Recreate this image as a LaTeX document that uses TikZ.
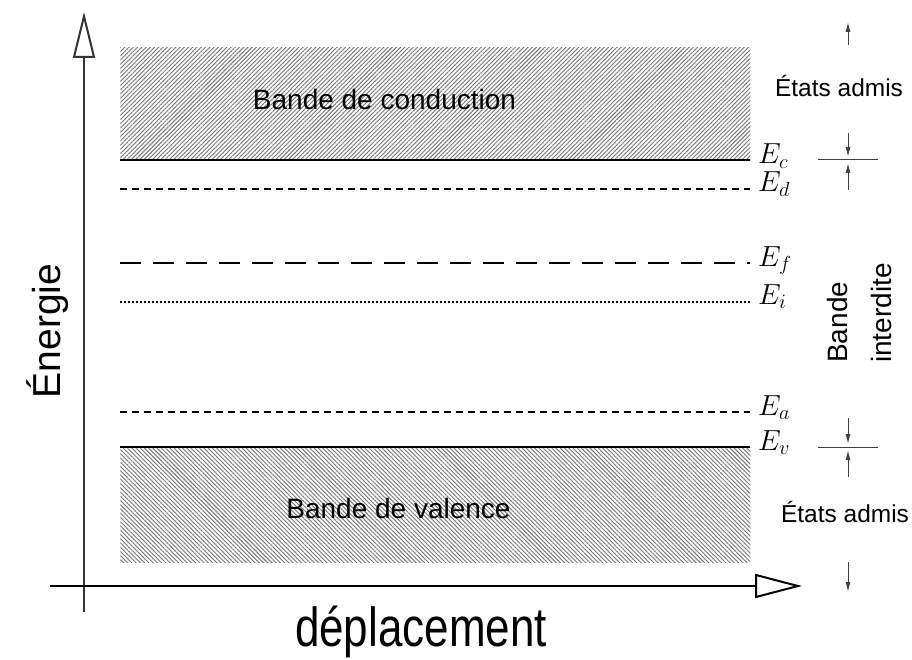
\RequirePackage{fix-cm}
\documentclass[tikz,border=0pt]{standalone}
\usepackage[no-math]{fontspec}
\setmainfont{Liberation Sans}
\usetikzlibrary{arrows.meta,patterns.meta}
\begin{document}
\begin{tikzpicture}[x=1pt,y=-1pt,
  band/.style={pattern={Lines[angle=#1,distance=3pt,line width=0.9pt]},pattern color=black!55,draw=none,inner sep=0pt,anchor=north west,minimum width=630pt},
  bandtxt/.style={anchor=base,inner sep=0pt,font=\fontsize{28}{30}\selectfont},
  solidlvl/.style={line width=2.6pt},
  dashlvl/.style={line width=1.3pt,dash pattern=on 7pt off 5pt},
  longdash/.style={line width=1.3pt,dash pattern=on 21pt off 12pt},
  dotlvl/.style={line width=1.1pt,dash pattern=on 1.5pt off 2.5pt},
  lbl/.style={anchor=base west,inner sep=0pt,font=\fontsize{29}{30}\selectfont},
  axis/.style={line width=2pt},
  tickline/.style={line width=1pt,black!75},
  tipline/.style={-{Latex[length=10pt,width=5pt]},line width=1pt,black!75},
  side/.style={anchor=base,inner sep=0pt,font=\fontsize{24.5}{26}\selectfont}]
\useasboundingbox (0,0) rectangle (912,660);
% bands
\node (cb) [band=45, minimum height=113pt] at (120,47) {};
\node (vb) [band=-45, minimum height=115pt] at (120,447) {};
\node (cbt) [bandtxt] at (384.5,110) {Bande de conduction};
\node (vbt) [bandtxt] at (398.5,518) {Bande de valence};
% levels
\coordinate (ecL) at (120,160); \coordinate (ecR) at (750,160);
\coordinate (edL) at (120,189); \coordinate (edR) at (750,189);
\coordinate (efL) at (120,263); \coordinate (efR) at (750,263);
\coordinate (eiL) at (120,302); \coordinate (eiR) at (750,302);
\coordinate (eaL) at (120,412); \coordinate (eaR) at (750,412);
\coordinate (evL) at (120,447); \coordinate (evR) at (750,447);
\draw[solidlvl] (ecL) -- (ecR);
\draw[dashlvl] (edL) -- (edR);
\draw[longdash] (efL) -- (efR);
\draw[dotlvl] (eiL) -- (eiR);
\draw[dashlvl] (eaL) -- (eaR);
\draw[solidlvl] (evL) -- (evR);
\node (lc) [lbl] at (758,164) {$E_c$};
\node (ld) [lbl] at (758,192) {$E_d$};
\node (lf) [lbl] at (758,266) {$E_f$};
\node (li) [lbl] at (758,304) {$E_i$};
\node (la) [lbl] at (758,415) {$E_a$};
\node (lv) [lbl] at (758,450) {$E_v$};
% axes
\coordinate (yb) at (84,612); \coordinate (yt) at (84,12);
\coordinate (xl) at (50,586); \coordinate (xr) at (802,586);
\draw[axis,black!80,-{Triangle[open,length=46pt,width=22pt]}] (yb) -- (yt);
\draw[axis,-{Triangle[open,length=47pt,width=24pt]}] (xl) -- (xr);
\node (en) [rotate=90,anchor=base,inner sep=0pt,font=\fontsize{39}{40}\selectfont] at (60,331) {Énergie};
\node (dep) [anchor=base,inner sep=0pt,font=\fontsize{55}{58}\selectfont] at (421,646) {\scalebox{0.8}[1]{déplacement}};
% right side
\coordinate (t1) at (848,45); \coordinate (t0) at (848,22);
\draw[tipline] (t1) -- (t0);
\node (ea1) [side] at (839,97) {États admis};
\coordinate (hc1) at (818,160); \coordinate (hc2) at (878,160);
\draw[tickline] (hc1) -- (hc2);
\coordinate (c1) at (848,133); \coordinate (c2) at (848,157);
\coordinate (c3) at (848,190); \coordinate (c4) at (848,163);
\draw[tipline] (c1) -- (c2);
\draw[tipline] (c3) -- (c4);
\node (bi) [rotate=90,anchor=south west,inner sep=0pt,align=left,font=\fontsize{28}{44}\selectfont] at (892,363) {Bande\\interdite};
\coordinate (hv1) at (818,447); \coordinate (hv2) at (878,447);
\draw[tickline] (hv1) -- (hv2);
\coordinate (v1) at (848,418); \coordinate (v2) at (848,444);
\coordinate (v3) at (848,477); \coordinate (v4) at (848,450);
\draw[tipline] (v1) -- (v2);
\draw[tipline] (v3) -- (v4);
\node (ea2) [side] at (845,522) {États admis};
\coordinate (b1) at (848,562); \coordinate (b2) at (848,592);
\draw[tipline] (b1) -- (b2);
\end{tikzpicture}
\end{document}
